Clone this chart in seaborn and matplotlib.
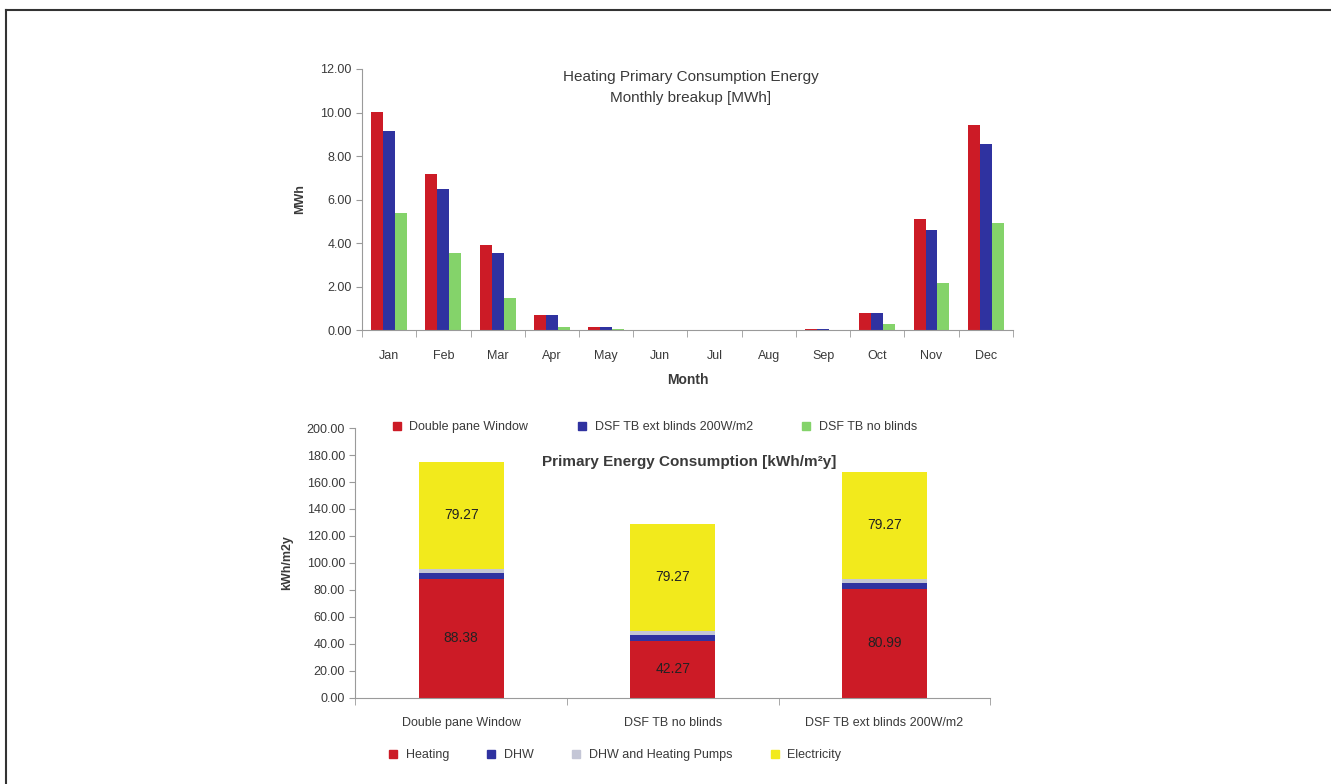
import numpy as np
import pandas as pd
import matplotlib
matplotlib.use("Agg")
import matplotlib.pyplot as plt
import seaborn as sns
from matplotlib.lines import Line2D
from matplotlib.ticker import FixedLocator

# ----------------------------
# DATA
# ----------------------------

months = ["Jan", "Feb", "Mar", "Apr", "May", "Jun", "Jul", "Aug", "Sep", "Oct", "Nov", "Dec"]
monthly_series = ["Double pane Window", "DSF TB ext blinds 200W/m2", "DSF TB no blinds"]
double_pane = [10.02, 7.17, 3.92, 0.70, 0.15, 0.0, 0.0, 0.0, 0.04, 0.80, 5.10, 9.43]
dsf_ext_blinds = [9.15, 6.48, 3.54, 0.70, 0.14, 0.0, 0.0, 0.0, 0.03, 0.78, 4.60, 8.55]
dsf_no_blinds = [5.38, 3.54, 1.47, 0.15, 0.03, 0.0, 0.0, 0.0, 0.0, 0.28, 2.16, 4.92]

cases = ["Double pane Window", "DSF TB no blinds", "DSF TB ext blinds 200W/m2"]
heating = [88.38, 42.27, 80.99]
dhw = [4.45, 4.45, 4.45]
pumps = [3.0, 3.0, 3.0]
electricity = [79.27, 79.27, 79.27]
components = ["Heating", "DHW", "DHW and Heating Pumps", "Electricity"]

RED = "#cc1b26"
BLUE = "#2f32a0"
GREEN = "#84d36a"
YELLOW = "#f2ea1c"
GREY = "#c4c6d6"
TXT = "#3a3a3a"
AXC = "#9a9a9a"

plt.rcParams["font.family"] = ["Liberation Sans", "DejaVu Sans"]

fig = plt.figure(figsize=(13.31, 7.84), dpi=100)

# ----------------------------
# TOP CHART - MONTHLY
# ----------------------------

ax1 = fig.add_axes([0.272, 0.579, 0.489, 0.333])

df_month = pd.DataFrame({
    "Month": months * 3,
    "Series": np.repeat(monthly_series, len(months)),
    "MWh": double_pane + dsf_ext_blinds + dsf_no_blinds,
})

sns.barplot(
    data=df_month, x="Month", y="MWh", hue="Series",
    palette=[RED, BLUE, GREEN], width=0.66, saturation=1,
    ax=ax1, legend=False,
)

ax1.set_ylim(0, 12)
ax1.set_xlim(-0.5, 11.5)
ax1.set_yticks(np.arange(0, 12.1, 2))
ax1.set_yticklabels([f"{v:.2f}" for v in np.arange(0, 12.1, 2)], fontsize=9, color=TXT)
ax1.set_xticklabels(months, fontsize=9, color=TXT)
ax1.tick_params(axis="x", length=0, pad=14)
ax1.xaxis.set_minor_locator(FixedLocator(np.arange(-0.5, 12, 1)))
ax1.tick_params(axis="x", which="minor", length=5, color=AXC)
ax1.tick_params(axis="y", length=4, color=AXC)
for s in ["top", "right"]:
    ax1.spines[s].set_visible(False)
for s in ["left", "bottom"]:
    ax1.spines[s].set_color(AXC)
ax1.set_xlabel("Month", fontsize=10, fontweight="bold", color=TXT, labelpad=8)
ax1.set_ylabel("MWh", fontsize=9, fontweight="bold", color=TXT, labelpad=10)
ax1.text(0.505, 0.93, "Heating Primary Consumption Energy\nMonthly breakup [MWh]",
         transform=ax1.transAxes, ha="center", va="center", fontsize=11,
         color=TXT, linespacing=1.6)

handles1 = [Line2D([0], [0], marker="s", ls="", color=c, markersize=6)
            for c in [RED, BLUE, GREEN]]
fig.legend(handles1, monthly_series, loc="center", bbox_to_anchor=(0.489, 1 - 427 / 784),
           ncol=3, frameon=False, fontsize=9, handletextpad=0.0,
           columnspacing=3.3, labelcolor=TXT)

# ----------------------------
# BOTTOM CHART - STACKED TOTALS
# ----------------------------

ax2 = fig.add_axes([0.267, 0.110, 0.477, 0.344])

layers = [heating, dhw, pumps, electricity]
layer_colors = [RED, BLUE, GREY, YELLOW]
cum = np.cumsum(np.array(layers), axis=0)

# draw cumulative totals from the top layer down so each layer covers the one above
for level in range(len(layers) - 1, -1, -1):
    df_stack = pd.DataFrame({"Case": cases, "Value": cum[level]})
    sns.barplot(data=df_stack, x="Case", y="Value", color=layer_colors[level],
                width=0.4, saturation=1, ax=ax2)

for i in range(len(cases)):
    ax2.text(i, heating[i] / 2, f"{heating[i]:.2f}", ha="center", va="center",
             fontsize=10, color="#222222")
    ax2.text(i, cum[2][i] + electricity[i] / 2, f"{electricity[i]:.2f}", ha="center",
             va="center", fontsize=10, color="#222222")

ax2.set_ylim(0, 200)
ax2.set_xlim(-0.5, 2.5)
yt = np.arange(0, 201, 20)
ax2.set_yticks(yt)
ax2.set_yticklabels([f"{v:.2f}" for v in yt], fontsize=9, color=TXT)
ax2.set_xticks(range(3))
ax2.set_xticklabels(cases, fontsize=9, color=TXT)
ax2.tick_params(axis="x", length=0, pad=14)
ax2.xaxis.set_minor_locator(FixedLocator([-0.5, 0.5, 1.5, 2.5]))
ax2.tick_params(axis="x", which="minor", length=5, color=AXC)
ax2.tick_params(axis="y", length=4, color=AXC)
for s in ["top", "right"]:
    ax2.spines[s].set_visible(False)
for s in ["left", "bottom"]:
    ax2.spines[s].set_color(AXC)
ax2.set_xlabel("")
ax2.set_ylabel("kWh/m2y", fontsize=9, fontweight="bold", color=TXT, labelpad=10)
ax2.text(0.526, 0.874, "Primary Energy Consumption [kWh/m²y]", transform=ax2.transAxes,
         ha="center", va="center", fontsize=11, fontweight="bold", color=TXT)

handles2 = [Line2D([0], [0], marker="s", ls="", color=c, markersize=6)
            for c in layer_colors]
fig.legend(handles2, components, loc="center", bbox_to_anchor=(0.459, 1 - 755 / 784),
           ncol=4, frameon=False, fontsize=9, handletextpad=0.0,
           columnspacing=2.4, labelcolor=TXT)

# frame lines (left and top)
fig.add_artist(Line2D([6 / 1331, 6 / 1331], [0, 1 - 9.5 / 784], color="#333333",
                      lw=1.5, transform=fig.transFigure))
fig.add_artist(Line2D([6 / 1331, 1], [1 - 9.5 / 784, 1 - 9.5 / 784], color="#333333",
                      lw=1.5, transform=fig.transFigure))

plt.savefig("out.png", dpi=100)
